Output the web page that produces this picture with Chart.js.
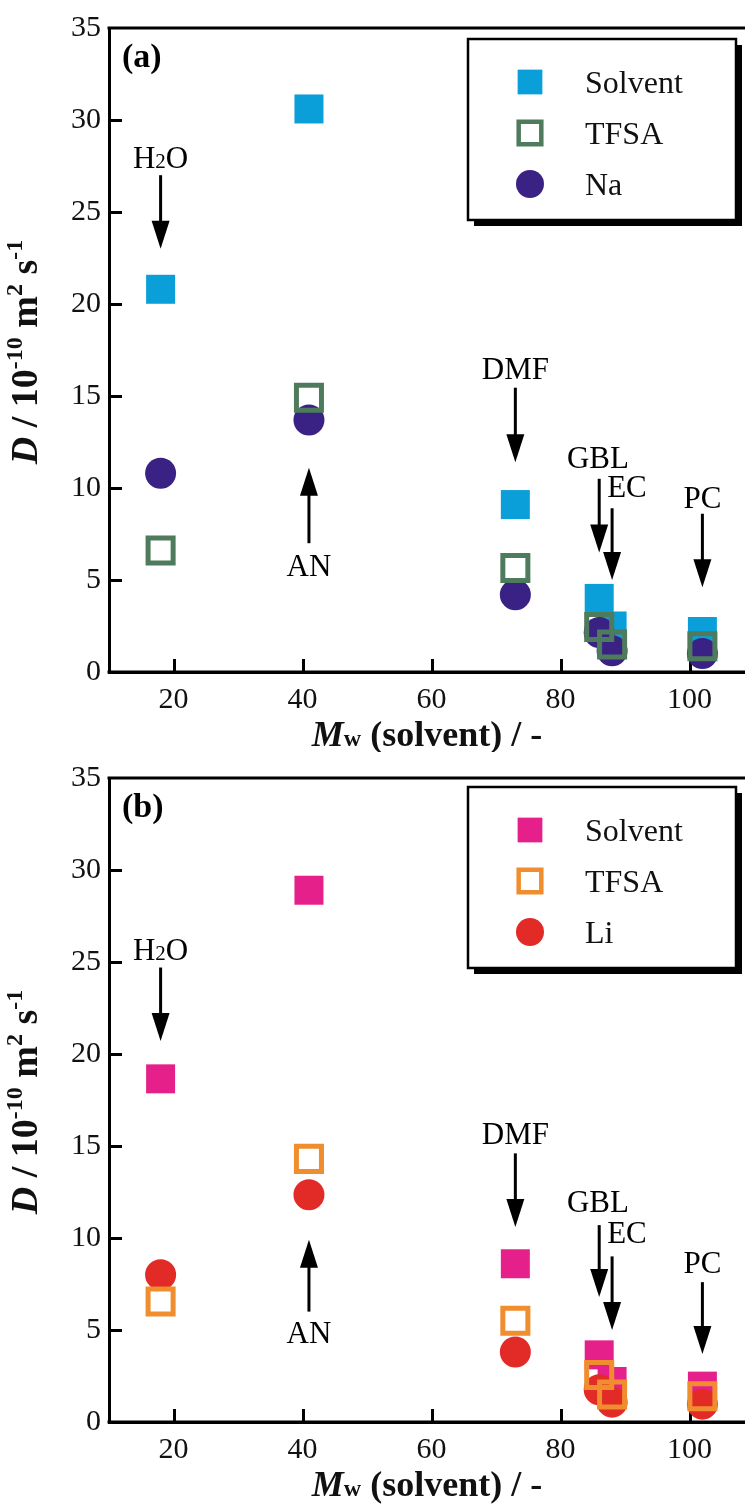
<!DOCTYPE html>
<html>
<head>
<meta charset="utf-8">
<script src="https://cdn.jsdelivr.net/npm/chart.js@4.4.1/dist/chart.umd.min.js"></script>
<style>
  html, body { margin: 0; padding: 0; background: #fff; overflow: hidden; width: 745px; height: 1504px; }
  .panel { position: absolute; left: 0; width: 760px; }
  .panel canvas { display: block; }
</style>
</head>
<body>
<div class="panel" style="top:0; height:752px"><canvas id="chartNa" width="760" height="752"></canvas></div>
<div class="panel" style="top:750px; height:754px"><canvas id="chartLi" width="760" height="754"></canvas></div>
<script>
// Molecular weight of each solvent (x values)
const mw = [18, 41, 73, 86, 88, 102];
const solventNames = ["H2O", "AN", "DMF", "GBL", "EC", "PC"];
const yTickStep = 5;
const xTickValues = [20, 40, 60, 80, 100];

// (a) NaTFSA solutions, D / 10^-10 m2 s-1
const naSolvent = [20.8, 30.6, 9.1, 4.0, 2.5, 2.2];
const naTfsa = [6.6, 14.9, 5.65, 2.45, 1.5, 1.4];
const naCation = [10.8, 13.7, 4.2, 2.15, 1.15, 1.0];

// (b) LiTFSA solutions, D / 10^-10 m2 s-1
const liSolvent = [18.65, 28.9, 8.6, 3.65, 2.2, 1.95];
const liTfsa = [6.55, 14.3, 5.5, 2.55, 1.5, 1.4];
const liCation = [8.0, 12.35, 3.8, 1.75, 1.08, 0.97];

const SERIF = '"Liberation Serif", "Times New Roman", serif';

// solvent labels with arrows, given in data units
const naNotes = [
  { text: "H2O", x: 18, textY: 27.4, from: 27.0, to: 23.0 },
  { text: "AN", x: 41, textY: 5.2, from: 7.0, to: 11.1 },
  { text: "DMF", x: 73, textY: 15.95, from: 15.45, to: 11.4 },
  { text: "GBL", x: 86, textX: 85.8, textY: 11.1, from: 10.5, to: 6.5 },
  { text: "EC", x: 88, textX: 90.3, textY: 9.5, from: 8.9, to: 5.0 },
  { text: "PC", x: 102, textY: 8.9, from: 8.6, to: 4.6 }
];
const liNotes = [
  { text: "H2O", x: 18, textY: 25.1, from: 24.7, to: 20.7 },
  { text: "AN", x: 41, textY: 4.3, from: 6.0, to: 9.9 },
  { text: "DMF", x: 73, textY: 15.1, from: 14.6, to: 10.6 },
  { text: "GBL", x: 86, textX: 85.8, textY: 11.4, from: 10.7, to: 6.8 },
  { text: "EC", x: 88, textX: 90.3, textY: 9.75, from: 9.0, to: 5.0 },
  { text: "PC", x: 102, textY: 8.1, from: 7.6, to: 3.7 }
];

// draw a run of text pieces with their own fonts, one after another
function drawRich(ctx, parts, x, y, align) {
  let total = 0;
  parts.forEach(p => { ctx.font = p.font; p.w = ctx.measureText(p.t).width; total += p.w; });
  let cx = align === "center" ? x - total / 2 : x;
  ctx.textAlign = "left";
  ctx.textBaseline = "alphabetic";
  parts.forEach(p => { ctx.font = p.font; ctx.fillText(p.t, cx, y - (p.rise || 0)); cx += p.w; });
}

// digits after a letter are drawn small (H2O)
function noteParts(text) {
  return text.split("").map(ch => /[0-9]/.test(ch)
    ? { t: ch, font: "21px " + SERIF }
    : { t: ch, font: "31px " + SERIF });
}

function drawArrow(ctx, x, y0, y1) {
  const dir = Math.sign(y1 - y0);
  const headLen = 28, headHalf = 9;
  ctx.lineWidth = 3;
  ctx.beginPath();
  ctx.moveTo(x, y0);
  ctx.lineTo(x, y1 - dir * (headLen - 2));
  ctx.stroke();
  ctx.beginPath();
  ctx.moveTo(x, y1);
  ctx.lineTo(x - headHalf, y1 - dir * headLen);
  ctx.lineTo(x + headHalf, y1 - dir * headLen);
  ctx.closePath();
  ctx.fill();
}

const panelDecor = {
  id: "panelDecor",
  beforeDatasetsDraw(chart) {
    const { ctx, chartArea, scales } = chart;
    ctx.save();
    ctx.strokeStyle = "#000";
    ctx.lineWidth = 3;
    // frame top and bottom lines run off the right edge
    ctx.beginPath();
    ctx.moveTo(chartArea.left - 1.5, chartArea.top);
    ctx.lineTo(chart.width, chartArea.top);
    ctx.moveTo(chartArea.left - 1.5, Math.round(chartArea.bottom));
    ctx.lineTo(chart.width, Math.round(chartArea.bottom));
    ctx.stroke();
    // inward tick marks
    ctx.beginPath();
    scales.y.ticks.forEach(t => {
      if (t.value <= scales.y.min || t.value >= scales.y.max) return;
      const py = Math.round(scales.y.getPixelForValue(t.value)) + 0.5;
      ctx.moveTo(chartArea.left, py);
      ctx.lineTo(chartArea.left + 13, py);
    });
    scales.x.ticks.forEach(t => {
      const px = Math.round(scales.x.getPixelForValue(t.value)) + 0.5;
      ctx.moveTo(px, chartArea.bottom);
      ctx.lineTo(px, chartArea.bottom - 13);
    });
    ctx.stroke();
    ctx.restore();
  },
  afterDatasetsDraw(chart, args, opts) {
    const { ctx, chartArea, scales } = chart;
    ctx.save();
    ctx.fillStyle = "#000";
    ctx.strokeStyle = "#000";

    // panel tag
    ctx.font = "bold 34px " + SERIF;
    ctx.textAlign = "left";
    ctx.textBaseline = "alphabetic";
    ctx.fillText(opts.tag, chartArea.left + 13, chartArea.top + 39);

    // solvent labels and arrows
    opts.notes.forEach(n => {
      const px = scales.x.getPixelForValue(n.x);
      const tx = scales.x.getPixelForValue(n.textX !== undefined ? n.textX : n.x);
      drawRich(ctx, noteParts(n.text), tx, scales.y.getPixelForValue(n.textY), "center");
      drawArrow(ctx, px, scales.y.getPixelForValue(n.from), scales.y.getPixelForValue(n.to));
    });

    // legend box with drop shadow
    const bx = 468, by = opts.legendTop, bw = 268, bh = 181;
    ctx.fillRect(bx + 6, by + 6, bw, bh);
    ctx.fillStyle = "#fff";
    ctx.fillRect(bx, by, bw, bh);
    ctx.lineWidth = 2.5;
    ctx.strokeRect(bx, by, bw, bh);
    const legendSize = { rect: [17.5, 16], circle: 14 };
    chart.data.datasets.forEach((ds, i) => {
      const ly = by + 43 + i * 51;
      const hollow = ds.pointBorderWidth > 0;
      ctx.fillStyle = ds.pointBackgroundColor;
      ctx.strokeStyle = ds.pointBorderColor || "#000";
      ctx.lineWidth = hollow ? 4.5 : 0;
      Chart.helpers.drawPoint(ctx, {
        pointStyle: ds.pointStyle,
        rotation: 0,
        radius: ds.pointStyle === "circle" ? legendSize.circle : legendSize.rect[hollow ? 1 : 0],
        borderWidth: hollow ? 4.5 : 0
      }, 530, ly);
      ctx.fillStyle = "#111";
      ctx.font = "32px " + SERIF;
      ctx.textAlign = "left";
      ctx.textBaseline = "alphabetic";
      ctx.fillText(ds.label, 585, ly + 10.5);
    });

    // axis titles
    ctx.fillStyle = "#111";
    drawRich(ctx, [
      { t: "M", font: "italic bold 36px " + SERIF },
      { t: "w", font: "bold 24px " + SERIF },
      { t: " (solvent) / -", font: "bold 36px " + SERIF }
    ], 427, chartArea.bottom + 74, "center");

    ctx.translate(37, (chartArea.top + chartArea.bottom) / 2 + 2);
    ctx.rotate(-Math.PI / 2);
    drawRich(ctx, [
      { t: "D", font: "italic bold 38px " + SERIF },
      { t: " / 10", font: "bold 38px " + SERIF },
      { t: "-10", font: "bold 24px " + SERIF, rise: 15 },
      { t: " m", font: "bold 38px " + SERIF },
      { t: "2", font: "bold 24px " + SERIF, rise: 15 },
      { t: " s", font: "bold 38px " + SERIF },
      { t: "-1", font: "bold 24px " + SERIF, rise: 15 }
    ], 0, 0, "center");
    ctx.restore();
  }
};

function points(values) {
  return mw.map((x, i) => ({ x: x, y: values[i] }));
}

function makeChart(id, solvent, tfsa, cation, cationName, colors, tag, notes, legendTop) {
  const canvas = document.getElementById(id);
  const axisHeight = canvas.height - 672;
  return new Chart(canvas, {
    type: "scatter",
    data: {
      datasets: [
        {
          label: "Solvent", data: points(solvent), order: 3,
          pointStyle: "rect", pointRadius: 20.5,
          pointBackgroundColor: colors[0], pointBorderWidth: 0
        },
        {
          label: "TFSA", data: points(tfsa), order: 1,
          pointStyle: "rect", pointRadius: 17.7,
          pointBackgroundColor: "rgba(0,0,0,0)", pointBorderColor: colors[1], pointBorderWidth: 5
        },
        {
          label: cationName, data: points(cation), order: 2,
          pointStyle: "circle", pointRadius: 15.5,
          pointBackgroundColor: colors[2], pointBorderWidth: 0
        }
      ]
    },
    options: {
      responsive: false,
      animation: false,
      devicePixelRatio: 1,
      events: [],
      // big markers would otherwise add their own padding on the right
      layout: { autoPadding: false, padding: { top: 28, right: 6, left: 0, bottom: 0 } },
      plugins: {
        legend: { display: false },
        tooltip: { enabled: false },
        panelDecor: { tag: tag, notes: notes, legendTop: legendTop }
      },
      scales: {
        x: {
          type: "linear", min: 10, max: 110,
          afterBuildTicks: s => { s.ticks = xTickValues.map(v => ({ value: v })); },
          ticks: { font: { family: SERIF, size: 30 }, color: "#111", padding: 10, maxRotation: 0 },
          grid: { display: false, drawTicks: false },
          border: { display: true, width: 3, color: "#000" },
          afterFit: s => { s.height = axisHeight; }
        },
        y: {
          min: 0, max: 35,
          ticks: { stepSize: yTickStep, font: { family: SERIF, size: 30 }, color: "#111", padding: 8 },
          grid: { display: false, drawTicks: false },
          border: { display: true, width: 3, color: "#000" },
          afterFit: s => { s.width = 109; }
        }
      }
    },
    plugins: [panelDecor]
  });
}

makeChart("chartNa", naSolvent, naTfsa, naCation, "Na",
  ["#0a9fd8", "#4f7b5d", "#3a2284"], "(a)", naNotes, 39);
makeChart("chartLi", liSolvent, liTfsa, liCation, "Li",
  ["#e5208b", "#f08d2e", "#e22a26"], "(b)", liNotes, 37);
</script>
</body>
</html>
